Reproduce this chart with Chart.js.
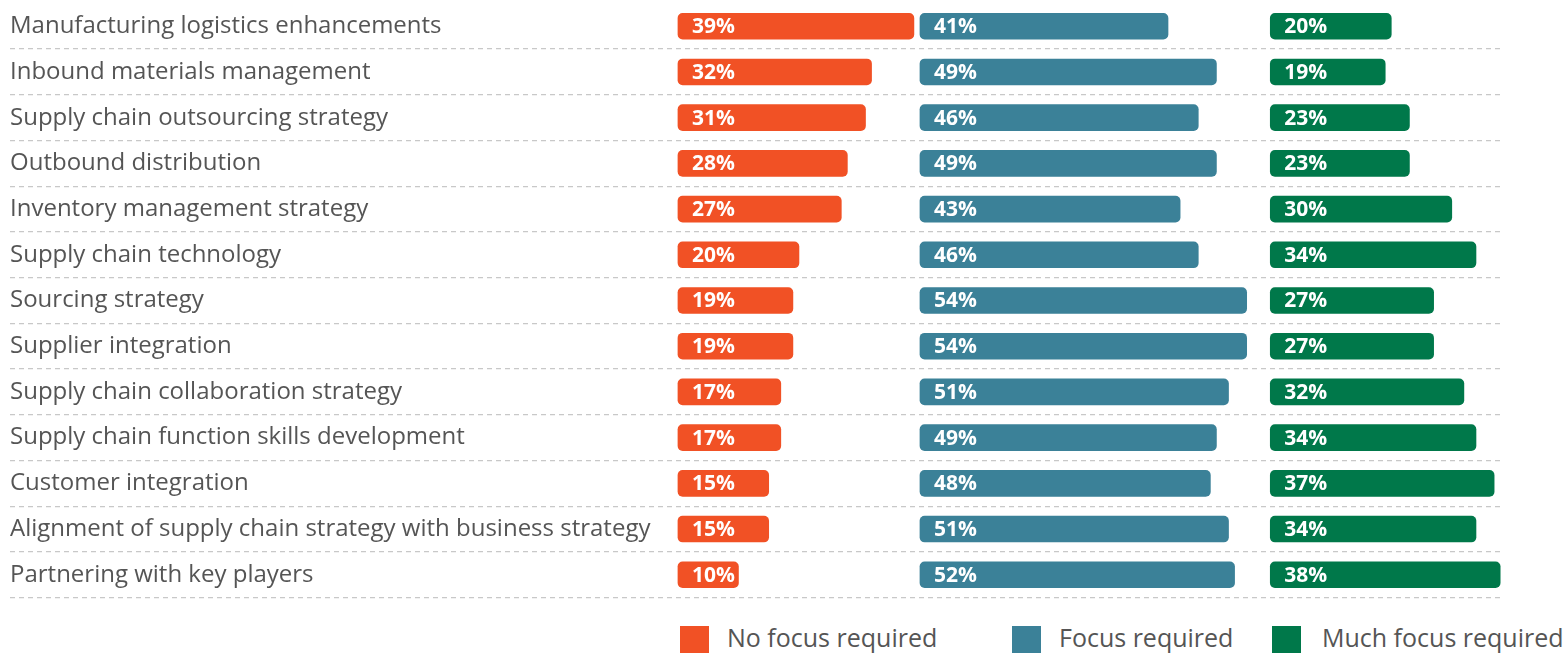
<!DOCTYPE html>
<html>
<head>
<meta charset="utf-8">
<script src="https://cdn.jsdelivr.net/npm/chart.js@4"></script>
<style>
  html, body { margin: 0; padding: 0; background: #fff; overflow: hidden; }
  #wrap { position: relative; width: 1566px; height: 653px; overflow: hidden; }
  #chartBox { position: absolute; left: 0; top: -11px; width: 1566px; height: 623px; }
  .lg { position: absolute; top: 626px; height: 28px; font-family: "Open Sans", sans-serif; font-size: 25px; color: #555; white-space: nowrap; }
  .lg span.box { position: absolute; left: 0; top: 0; width: 29px; height: 29px; }
  .lg span.txt { position: absolute; top: -6px; }
</style>
</head>
<body>
<div id="wrap">
  <div id="chartBox"><canvas id="focusChart"></canvas></div>
  <div id="legend"></div>
</div>
<script>
// 카테고리 / 시리즈 데이터
const categories = [
  "Manufacturing logistics enhancements",
  "Inbound materials management",
  "Supply chain outsourcing strategy",
  "Outbound distribution",
  "Inventory management strategy",
  "Supply chain technology",
  "Sourcing strategy",
  "Supplier integration",
  "Supply chain collaboration strategy",
  "Supply chain function skills development",
  "Customer integration",
  "Alignment of supply chain strategy with business strategy",
  "Partnering with key players",
];
const noFocus = [39, 32, 31, 28, 27, 20, 19, 19, 17, 17, 15, 15, 10];
const focus = [41, 49, 46, 49, 43, 46, 54, 54, 51, 49, 48, 51, 52];
const muchFocus = [20, 19, 23, 23, 30, 34, 27, 27, 32, 34, 37, 34, 38];
const seriesNames = ["No focus required", "Focus required", "Much focus required"];

const colors = ["#F15125", "#3B8198", "#00784A"];
const groupStart = [0, 40, 97.9]; // 각 그룹 시작 위치 (x축 단위)

const toRange = (vals, start) => vals.map((v) => [start, start + v]);

// 막대 안에 값 표시
const valueLabels = {
  id: "valueLabels",
  afterDatasetsDraw(chart) {
    const ctx = chart.ctx;
    ctx.save();
    ctx.font = "700 21px 'Open Sans', sans-serif";
    ctx.fillStyle = "#fff";
    ctx.textAlign = "left";
    ctx.textBaseline = "middle";
    chart.data.datasets.forEach((ds, di) => {
      const meta = chart.getDatasetMeta(di);
      meta.data.forEach((bar, i) => {
        const left = Math.min(bar.x, bar.base);
        ctx.fillText(ds.raw[i] + "%", left + 14, bar.y + 1);
      });
    });
    ctx.restore();
  },
};

try {
  const ctx = document.getElementById("focusChart").getContext("2d");
  new Chart(ctx, {
    type: "bar",
    data: {
      labels: categories,
      datasets: [noFocus, focus, muchFocus].map((vals, k) => ({
        label: seriesNames[k],
        raw: vals,
        data: toRange(vals, groupStart[k]),
        backgroundColor: colors[k],
        borderRadius: 5,
        borderSkipped: false,
        barThickness: 26,
      })),
    },
    options: {
      indexAxis: "y",
      responsive: true,
      maintainAspectRatio: false,
      animation: false,
      layout: { padding: { left: 10, right: 64, top: 1, bottom: 2 } },
      scales: {
        x: { display: false, min: -110.4, max: 136.2 },
        y: {
          stacked: true,
          border: { display: false, dash: [5, 4] },
          grid: {
            drawTicks: false,
            color: (c) => (c.index === 0 ? "rgba(0,0,0,0)" : "#c8c8c8"),
            lineWidth: 1.3,
          },
          ticks: {
            mirror: true,
            padding: 0,
            color: "#555",
            font: { family: "'Open Sans', sans-serif", size: 24 },
          },
        },
      },
      plugins: {
        legend: { display: false },
        tooltip: { enabled: false },
      },
    },
    plugins: [valueLabels],
  });
} catch (e) {
  console.error("차트 생성 중 오류 발생:", e);
}

// 하단 범례
const legendX = [680, 1012, 1272];
const legendEl = document.getElementById("legend");
seriesNames.forEach((name, k) => {
  const item = document.createElement("div");
  item.className = "lg";
  item.style.left = legendX[k] + "px";
  item.innerHTML =
    '<span class="box" style="background:' + colors[k] + '"></span>' +
    '<span class="txt" style="left:' + (k === 2 ? 50 : 47) + 'px">' + name + "</span>";
  legendEl.appendChild(item);
});
</script>
</body>
</html>
